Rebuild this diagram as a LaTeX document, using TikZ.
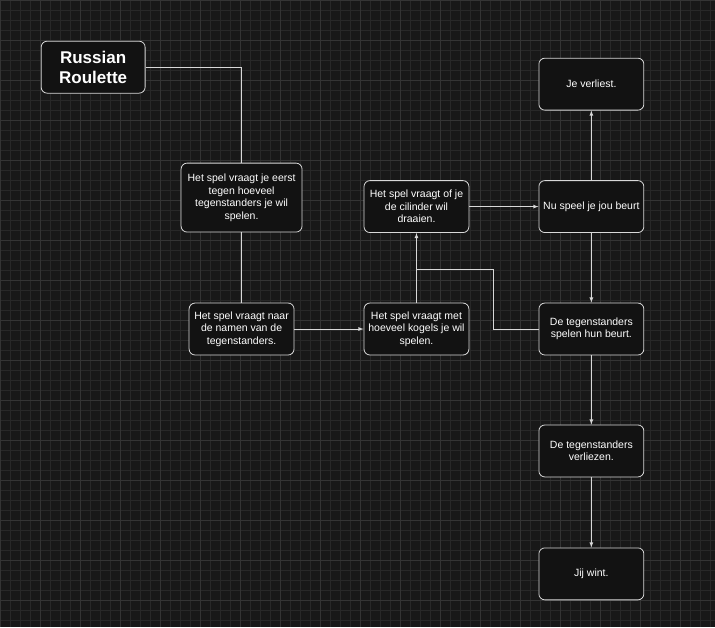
\documentclass[tikz,border=0pt]{standalone}
\usepackage{fontspec}
\setmainfont{Liberation Sans}
\usetikzlibrary{positioning}
\definecolor{canvas}{HTML}{181818}
\definecolor{minorgrid}{HTML}{282828}
\definecolor{majorgrid}{HTML}{343434}
\definecolor{boxfill}{HTML}{121212}
\definecolor{boxline}{HTML}{D8D8D8}
\tikzset{
  stap/.style={draw=boxline, fill=boxfill, rounded corners=6pt, line width=0.8pt,
               minimum width=105pt, minimum height=52pt, align=center,
               text=white, font=\fontsize{10.5}{12.5}\selectfont, inner sep=1pt},
  link/.style={draw=boxline, line width=0.8pt},
  flow/.style={link, -latex},
}
\begin{document}
\begin{tikzpicture}[x=1pt,y=-1pt]
    \fill[canvas] (0,0) rectangle (715,627);
    \draw[minorgrid, step=10pt] (0,0) grid (715,627);
    \draw[majorgrid, step=40pt] (0,0) grid (715,627);
    \useasboundingbox (0,0) rectangle (715,627);
    % boxes
    \node[stap, minimum width=104pt, font=\fontsize{17}{20}\bfseries]
      (title) at (93,67) {Russian\\Roulette};
    \node[stap, minimum width=121pt, minimum height=69pt]
      (aantal) at (241.5,197.5) {Het spel vraagt je eerst\\tegen hoeveel\\tegenstanders je wil\\spelen.};
    \node[stap] (namen) at (241.5,329) {Het spel vraagt naar\\de namen van de\\tegenstanders.};
    \node[stap] (kogels) at (416.5,329) {Het spel vraagt met\\hoeveel kogels je wil\\spelen.};
    \node[stap] (cilinder) at (416.5,206.5) {Het spel vraagt of je\\de cilinder wil\\draaien.};
    \node[stap] (beurt) at (591.5,206.5) {Nu speel je jou beurt};
    \node[stap] (verlies) at (591.5,84) {Je verliest.};
    \node[stap] (tegen) at (591.5,329) {De tegenstanders\\spelen hun beurt.};
    \node[stap] (tverlies) at (591.5,451) {De tegenstanders\\verliezen.};
    \node[stap] (wint) at (591.5,574) {Jij wint.};
    % connectors
    \draw[link] (title.east) -| (aantal.north);
    \draw[link] (aantal) -- (namen);
    \draw[flow] (namen) -- (kogels);
    \draw[flow] (kogels) -- (cilinder);
    \draw[link] (tegen.west) -- ++(-45,0) |- (416.5,269);
    \draw[flow] (cilinder) -- (beurt);
    \draw[flow] (beurt) -- (verlies);
    \draw[flow] (beurt) -- (tegen);
    \draw[flow] (tegen) -- (tverlies);
    \draw[flow] (tverlies) -- (wint);
\end{tikzpicture}
\end{document}
